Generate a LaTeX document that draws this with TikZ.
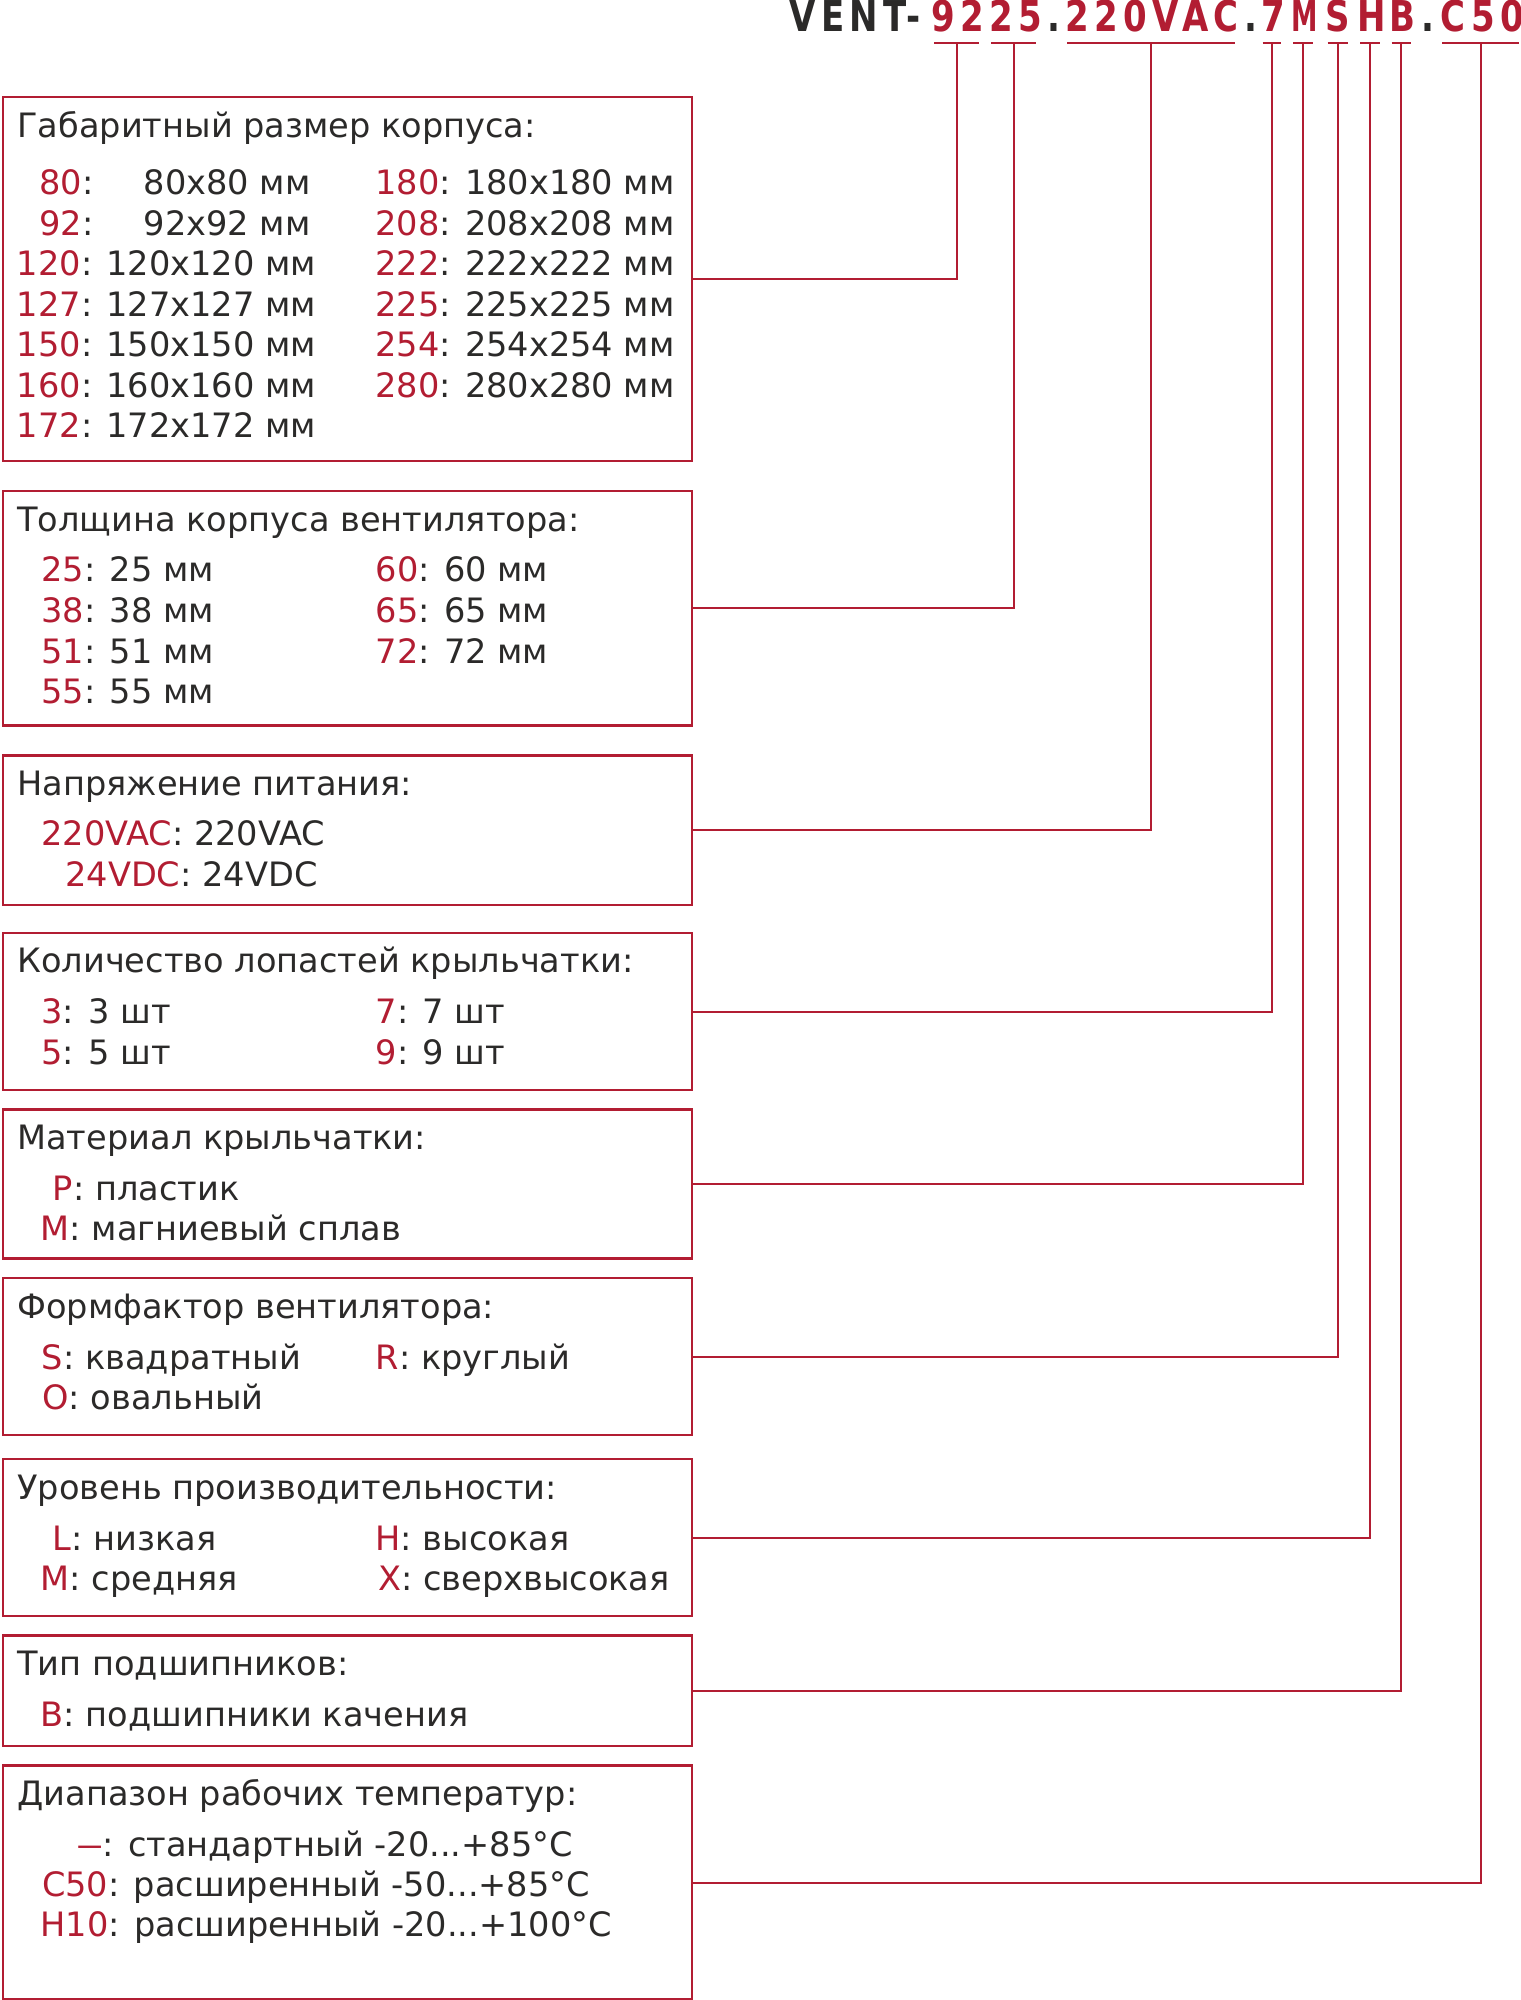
\documentclass[tikz,border=0pt]{standalone}
\usepackage{fontspec}
\setmainfont{DejaVu Sans}
\newfontfamily\codefont[FakeStretch=0.8,LetterSpace=12.5]{DejaVu Sans}
\usepackage{tikz}

\definecolor{codered}{RGB}{178,29,50}
\definecolor{ink}{RGB}{43,42,41}
\newcommand{\kred}[1]{\textcolor{codered}{#1}}

\tikzset{
  box/.style={draw=codered, line width=1.2pt, anchor=north west, inner sep=0pt, minimum width=344.25pt},
  txt/.style={anchor=base west, inner sep=0pt, text=ink, font=\fontsize{16.8}{20}\selectfont},
  code/.style={anchor=base west, inner sep=0pt, font=\codefont\bfseries\fontsize{21.25}{24}\selectfont},
  conn/.style={draw=codered, line width=1pt},
}

\begin{document}
\begin{tikzpicture}[x=0.5pt,y=-0.5pt]
    \useasboundingbox (0,0) rectangle (1520,2000);

    % обозначение
    \node[code, text=ink] (h0) at (789,31.7) {VENT-};
    \node[code, text=codered] (h1) at (931,31.7) {9225};
    \node[code, text=ink] (h2) at (1047,31.7) {.};
    \node[code, text=codered] (h3) at (1065.5,31.7) {220VAC};
    \node[code, text=ink] (h4) at (1244.5,31.7) {.};
    \node[code, text=codered] (h5) at (1261.5,31.7) {7};
    \node[code, text=codered] (h6) at (1291,31.7) {\scalebox{0.78}[1]{M}};
    \node[code, text=codered] (h7) at (1325.5,31.7) {S};
    \node[code, text=codered] (h8) at (1357.5,31.7) {H};
    \node[code, text=codered] (h9) at (1389,31.7) {B};
    \node[code, text=ink] (h10) at (1421,31.7) {.};
    \node[code, text=codered] (h11) at (1440.5,31.7) {C50};

    % рамки
    \foreach \n/\t/\h in {1/95.7/182.15, 2/490/117.15, 3/754.3/74.85, 4/931.7/78.65, 5/1108.3/74.5,
                          6/1276.7/78.65, 7/1457.7/78.65, 8/1634.3/55.35, 9/1764.3/117}
        \node[box, minimum height=\h pt] (b\n) at (2,\t) {};

    \foreach \n/\y/\s in {1/138/Габаритный размер корпуса:, 2/531.7/Толщина корпуса вентилятора:,
                          3/795/Напряжение питания:, 4/972.7/Количество лопастей крыльчатки:,
                          5/1149.3/Материал крыльчатки:, 6/1318.3/Формфактор вентилятора:,
                          7/1499.3/Уровень производительности:, 8/1675.7/Тип подшипников:,
                          9/1805/Диапазон рабочих температур:}
        \node[txt] (t\n) at (17,\y) {\s};

    % размер
    \node[txt] (k80) at (39,195) {\kred{80}:};
    \node[txt] (v80) at (143.3,195) {80x80 мм};
    \node[txt] (k92) at (39,235.5) {\kred{92}:};
    \node[txt] (v92) at (143.3,235.5) {92x92 мм};
    \foreach \k [count=\i from 2] in {120,127,150,160,172}
        \node[txt] (s\k) at (16.5,{195+40.45*\i}) {\kred{\k}: \k x\k\ мм};
    \foreach \k [count=\i from 0] in {180,208,222,225,254,280}
        \node[txt] (s\k) at (375,{195+40.45*\i}) {\kred{\k}: \k x\k\ мм};

    % толщина
    \foreach \k [count=\i from 0] in {25,38,51,55}
        \node[txt] (w\k) at (41,{581.7+40.75*\i}) {\kred{\k}: \k\ мм};
    \foreach \k [count=\i from 0] in {60,65,72}
        \node[txt] (w\k) at (375.5,{581.7+40.75*\i}) {\kred{\k}: \k\ мм};

    % напряжение
    \node[txt] (ac) at (41,845.7) {\kred{220VAC}: 220VAC};
    \node[txt] (dc) at (65,886.5) {\kred{24VDC}: 24VDC};

    % лопасти
    \foreach \k/\x/\y in {3/41/1023.3, 5/41/1064, 7/375.5/1023.3, 9/375.5/1064}
        \node[txt] (n\k) at (\x,\y) {\kred{\k}: \k\ шт};

    % материал
    \node[txt] (mp) at (52.5,1200) {\kred{P}: пластик};
    \node[txt] (mm) at (40.5,1240.7) {\kred{M}: магниевый сплав};

    % форма
    \node[txt] (fs) at (41.5,1369) {\kred{S}: квадратный};
    \node[txt] (fr) at (375.3,1369) {\kred{R}: круглый};
    \node[txt] (fo) at (42,1409.5) {\kred{O}: овальный};

    % уровень
    \node[txt] (pl) at (52.5,1550) {\kred{L}: низкая};
    \node[txt] (pm) at (40.5,1590.5) {\kred{M}: средняя};
    \node[txt] (ph) at (375.3,1550) {\kred{H}: высокая};
    \node[txt] (px) at (377.7,1590.5) {\kred{X}: сверхвысокая};

    % подшипники
    \node[txt] (bb) at (40.5,1726) {\kred{B}: подшипники качения};

    % температура
    \node[txt] (ts) at (77,1856.7) {\kred{\scalebox{0.75}[1]{—}}: стандартный -20...+85°C};
    \node[txt] (tc) at (41.7,1896.5) {\kred{C50}: расширенный -50...+85°C};
    \node[txt] (th) at (40.3,1936) {\kred{H10}: расширенный -20...+100°C};

    % выноски
    \foreach \a/\b [count=\n] in {934.3/979.3, 991/1036, 1067/1235, 1262.7/1281, 1293/1313,
                                  1327.5/1348, 1360/1380, 1391.5/1411, 1442/1519}{
        \coordinate (u\n) at ({(\a+\b)/2},43);
        \draw[conn] (\a,43) -- (\b,43);
        \draw[conn] (u\n) |- (b\n.east);
    }
\end{tikzpicture}
\end{document}
